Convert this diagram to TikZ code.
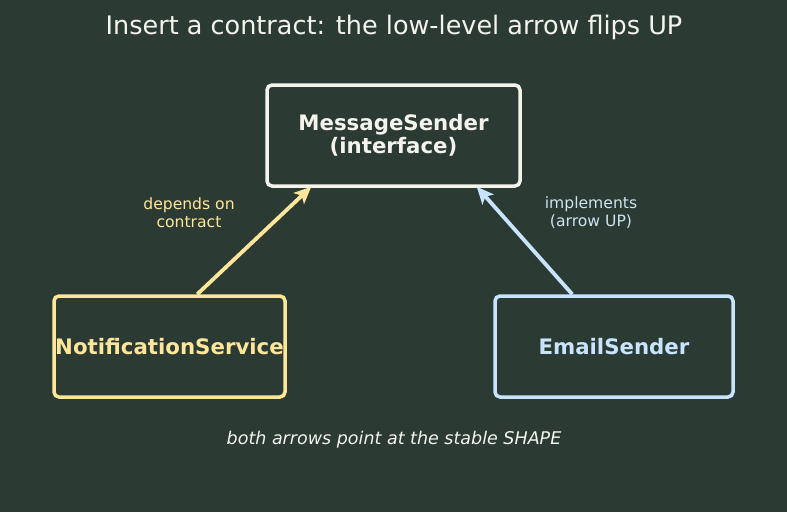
\documentclass[tikz,border=0pt]{standalone}
\usepackage{fontspec}
\setmainfont{DejaVu Sans}
\usepackage{tikz}
\usetikzlibrary{arrows.meta}
\definecolor{bgdark}{RGB}{43,59,52}
\definecolor{chalk}{RGB}{244,244,236}
\definecolor{butter}{RGB}{255,230,153}
\definecolor{skyblue}{RGB}{200,228,255}
\definecolor{mistblue}{RGB}{205,228,240}

\begin{document}
\begin{tikzpicture}[x=1pt,y=-1pt]
		\fill[bgdark] (0,0) rectangle (787,512);
		\useasboundingbox (0,0) rectangle (787,512);

		\node[chalk,font=\fontsize{25.5}{30}\selectfont] (title) at (394,27) {Insert a contract: the low-level arrow flips UP};

		\begin{scope}[every node/.style={rounded corners=5pt,line width=3.5pt,align=center,
		              font=\fontsize{21.3}{23}\selectfont\bfseries,inner sep=0pt}]
		    \node[draw=chalk,text=chalk,minimum width=253pt,minimum height=101pt] (msgsender) at (393.5,135.5) {MessageSender\\(interface)};
		    \node[draw=butter,text=butter,minimum width=231pt,minimum height=101pt] (notifsvc) at (169.5,346.5) {NotificationService};
		    \node[draw=skyblue,text=skyblue,minimum width=238pt,minimum height=101pt] (emailsnd) at (614,346.5) {EmailSender};
		\end{scope}

		\begin{scope}[every node/.style={align=center,font=\fontsize{15.6}{18}\selectfont}]
		    \node[butter] (deplabel) at (189,213) {depends on\\contract};
		    \node[mistblue] (impllabel) at (591,213) {implements\\(arrow UP)};
		    \node[chalk,font=\fontsize{17.5}{20}\selectfont\itshape] (footnote) at (394,440) {both arrows point at the stable SHAPE};
		\end{scope}

		\begin{scope}[line width=3.8pt]
		    \draw[butter,-{Stealth[length=17pt,width=15pt,inset=4pt]}] ([xshift=145pt]notifsvc.north west) -- ([xshift=46pt,yshift=1pt]msgsender.south west);
		    \draw[skyblue,-{Stealth[length=17pt,width=15pt,inset=4pt]}] ([xshift=79pt]emailsnd.north west) -- ([xshift=-45pt,yshift=1pt]msgsender.south east);
		\end{scope}
\end{tikzpicture}
\end{document}
